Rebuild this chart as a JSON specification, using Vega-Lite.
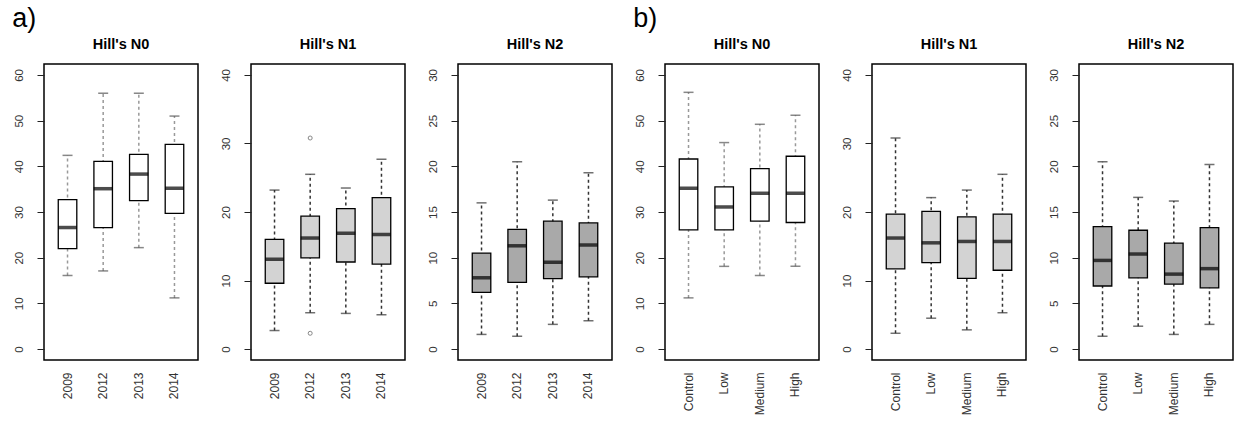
{
  "$schema": "https://vega.github.io/schema/vega-lite/v6.json",
  "padding": {"left": 12, "top": 4, "right": 0, "bottom": 0},
  "background": "white",
  "config": {
    "font": "Liberation Sans",
    "view": {"stroke": "black", "strokeWidth": 1.5},
    "concat": {"spacing": 20},
    "axis": {"grid": false, "labelFont": "Liberation Sans", "labelColor": "#333", "labelFontSize": 11.5}
  },
  "datasets": {
    "boxes": [
      {"set": "a", "index": "N0", "group": "2009", "lo": 16.1, "q1": 22.0, "med": 26.6, "q3": 32.7, "hi": 42.4},
      {"set": "a", "index": "N0", "group": "2012", "lo": 17.1, "q1": 26.6, "med": 35.1, "q3": 41.1, "hi": 56.0},
      {"set": "a", "index": "N0", "group": "2013", "lo": 22.2, "q1": 32.5, "med": 38.3, "q3": 42.6, "hi": 56.0},
      {"set": "a", "index": "N0", "group": "2014", "lo": 11.2, "q1": 29.7, "med": 35.2, "q3": 44.8, "hi": 51.0},
      {"set": "a", "index": "N1", "group": "2009", "lo": 2.7, "q1": 9.6, "med": 13.1, "q3": 16.0, "hi": 23.2},
      {"set": "a", "index": "N1", "group": "2012", "lo": 5.3, "q1": 13.3, "med": 16.2, "q3": 19.4, "hi": 25.5},
      {"set": "a", "index": "N1", "group": "2013", "lo": 5.2, "q1": 12.7, "med": 16.9, "q3": 20.5, "hi": 23.5},
      {"set": "a", "index": "N1", "group": "2014", "lo": 5.0, "q1": 12.4, "med": 16.7, "q3": 22.1, "hi": 27.7},
      {"set": "a", "index": "N2", "group": "2009", "lo": 1.6, "q1": 6.2, "med": 7.8, "q3": 10.5, "hi": 16.0},
      {"set": "a", "index": "N2", "group": "2012", "lo": 1.4, "q1": 7.3, "med": 11.3, "q3": 13.1, "hi": 20.5},
      {"set": "a", "index": "N2", "group": "2013", "lo": 2.7, "q1": 7.7, "med": 9.5, "q3": 14.0, "hi": 16.3},
      {"set": "a", "index": "N2", "group": "2014", "lo": 3.1, "q1": 7.9, "med": 11.4, "q3": 13.8, "hi": 19.3},
      {"set": "b", "index": "N0", "group": "Control", "lo": 11.2, "q1": 26.1, "med": 35.2, "q3": 41.6, "hi": 56.2},
      {"set": "b", "index": "N0", "group": "Low", "lo": 18.1, "q1": 26.1, "med": 31.1, "q3": 35.5, "hi": 45.2},
      {"set": "b", "index": "N0", "group": "Medium", "lo": 16.1, "q1": 28.0, "med": 34.1, "q3": 39.5, "hi": 49.2},
      {"set": "b", "index": "N0", "group": "High", "lo": 18.1, "q1": 27.7, "med": 34.1, "q3": 42.2, "hi": 51.2},
      {"set": "b", "index": "N1", "group": "Control", "lo": 2.3, "q1": 11.7, "med": 16.2, "q3": 19.7, "hi": 30.8},
      {"set": "b", "index": "N1", "group": "Low", "lo": 4.5, "q1": 12.6, "med": 15.5, "q3": 20.1, "hi": 22.1},
      {"set": "b", "index": "N1", "group": "Medium", "lo": 2.8, "q1": 10.3, "med": 15.7, "q3": 19.3, "hi": 23.2},
      {"set": "b", "index": "N1", "group": "High", "lo": 5.3, "q1": 11.5, "med": 15.7, "q3": 19.7, "hi": 25.5},
      {"set": "b", "index": "N2", "group": "Control", "lo": 1.4, "q1": 6.9, "med": 9.7, "q3": 13.4, "hi": 20.5},
      {"set": "b", "index": "N2", "group": "Low", "lo": 2.5, "q1": 7.8, "med": 10.4, "q3": 13.0, "hi": 16.6},
      {"set": "b", "index": "N2", "group": "Medium", "lo": 1.6, "q1": 7.1, "med": 8.2, "q3": 11.6, "hi": 16.2},
      {"set": "b", "index": "N2", "group": "High", "lo": 2.7, "q1": 6.7, "med": 8.8, "q3": 13.3, "hi": 20.2}
    ],
    "outliers": [
      {"set": "a", "index": "N1", "group": "2012", "value": 30.8},
      {"set": "a", "index": "N1", "group": "2012", "value": 2.3}
    ]
  },
  "hconcat": [
    {
      "title": {"text": "a)", "anchor": "start", "fontSize": 27, "fontWeight": "normal", "offset": 3, "color": "black"},
      "hconcat": [
        {
          "width": 154, "height": 296,
          "title": {"text": "Hill's N0", "fontSize": 14.5, "fontWeight": "bold", "offset": 12},
          "data": {"name": "boxes"},
          "transform": [{"filter": "datum.set == 'a' && datum.index == 'N0'"}],
          "encoding": {"x": {"field": "group", "type": "nominal", "sort": ["2009", "2012", "2013", "2014"], "title": null, "scale": {"paddingInner": 0, "paddingOuter": 0.16}, "axis": {"labelAngle": -90, "labelAlign": "right", "labelBaseline": "middle", "ticks": false, "domain": false, "labelPadding": 12, "labelFontSize": 12}}},
          "layer": [
            {"mark": {"type": "rule", "strokeDash": [3, 3], "color": "#999", "strokeWidth": 1.5},
             "encoding": {"y": {"field": "lo", "type": "quantitative", "title": null, "scale": {"domain": [-2.4, 62.4], "nice": false, "zero": false}, "axis": {"values": [0, 10, 20, 30, 40, 50, 60], "tickSize": 7, "tickColor": "#222", "labelAngle": -90, "labelAlign": "center", "labelBaseline": "bottom", "labelPadding": 13, "domain": false}}, "y2": {"field": "hi"}}},
            {"mark": {"type": "tick", "orient": "horizontal", "size": 10, "thickness": 1.5, "color": "#555"}, "encoding": {"y": {"field": "lo", "type": "quantitative"}}},
            {"mark": {"type": "tick", "orient": "horizontal", "size": 10, "thickness": 1.5, "color": "#555"}, "encoding": {"y": {"field": "hi", "type": "quantitative"}}},
            {"mark": {"type": "bar", "width": {"band": 0.52}, "fill": "white", "stroke": "black", "strokeWidth": 1.3}, "encoding": {"y": {"field": "q1", "type": "quantitative"}, "y2": {"field": "q3"}}},
            {"mark": {"type": "tick", "orient": "horizontal", "size": 19, "thickness": 3.5, "color": "black"}, "encoding": {"y": {"field": "med", "type": "quantitative"}}}
          ]
        },
        {
          "width": 154, "height": 296,
          "title": {"text": "Hill's N1", "fontSize": 14.5, "fontWeight": "bold", "offset": 12},
          "encoding": {"x": {"field": "group", "type": "nominal", "sort": ["2009", "2012", "2013", "2014"], "title": null, "scale": {"paddingInner": 0, "paddingOuter": 0.16}, "axis": {"labelAngle": -90, "labelAlign": "right", "labelBaseline": "middle", "ticks": false, "domain": false, "labelPadding": 12, "labelFontSize": 12}}},
          "layer": [
            {"data": {"name": "boxes"}, "transform": [{"filter": "datum.set == 'a' && datum.index == 'N1'"}],
             "mark": {"type": "rule", "strokeDash": [3, 3], "color": "#333", "strokeWidth": 1.5},
             "encoding": {"y": {"field": "lo", "type": "quantitative", "title": null, "scale": {"domain": [-1.6, 41.6], "nice": false, "zero": false}, "axis": {"values": [0, 10, 20, 30, 40], "tickSize": 7, "tickColor": "#222", "labelAngle": -90, "labelAlign": "center", "labelBaseline": "bottom", "labelPadding": 13, "domain": false}}, "y2": {"field": "hi"}}},
            {"data": {"name": "boxes"}, "transform": [{"filter": "datum.set == 'a' && datum.index == 'N1'"}],
             "mark": {"type": "tick", "orient": "horizontal", "size": 10, "thickness": 1.5, "color": "#333"}, "encoding": {"y": {"field": "lo", "type": "quantitative"}}},
            {"data": {"name": "boxes"}, "transform": [{"filter": "datum.set == 'a' && datum.index == 'N1'"}],
             "mark": {"type": "tick", "orient": "horizontal", "size": 10, "thickness": 1.5, "color": "#333"}, "encoding": {"y": {"field": "hi", "type": "quantitative"}}},
            {"data": {"name": "boxes"}, "transform": [{"filter": "datum.set == 'a' && datum.index == 'N1'"}],
             "mark": {"type": "bar", "width": {"band": 0.52}, "fill": "#d3d3d3", "stroke": "black", "strokeWidth": 1.3}, "encoding": {"y": {"field": "q1", "type": "quantitative"}, "y2": {"field": "q3"}}},
            {"data": {"name": "boxes"}, "transform": [{"filter": "datum.set == 'a' && datum.index == 'N1'"}],
             "mark": {"type": "tick", "orient": "horizontal", "size": 19, "thickness": 3.5, "color": "black"}, "encoding": {"y": {"field": "med", "type": "quantitative"}}},
            {"data": {"name": "outliers"}, "transform": [{"filter": "datum.set == 'a' && datum.index == 'N1'"}],
             "mark": {"type": "point", "shape": "circle", "filled": false, "size": 16, "color": "#555", "strokeWidth": 1}, "encoding": {"y": {"field": "value", "type": "quantitative"}}}
          ]
        },
        {
          "width": 154, "height": 296,
          "title": {"text": "Hill's N2", "fontSize": 14.5, "fontWeight": "bold", "offset": 12},
          "data": {"name": "boxes"},
          "transform": [{"filter": "datum.set == 'a' && datum.index == 'N2'"}],
          "encoding": {"x": {"field": "group", "type": "nominal", "sort": ["2009", "2012", "2013", "2014"], "title": null, "scale": {"paddingInner": 0, "paddingOuter": 0.16}, "axis": {"labelAngle": -90, "labelAlign": "right", "labelBaseline": "middle", "ticks": false, "domain": false, "labelPadding": 12, "labelFontSize": 12}}},
          "layer": [
            {"mark": {"type": "rule", "strokeDash": [3, 3], "color": "#333", "strokeWidth": 1.5},
             "encoding": {"y": {"field": "lo", "type": "quantitative", "title": null, "scale": {"domain": [-1.2, 31.2], "nice": false, "zero": false}, "axis": {"values": [0, 5, 10, 15, 20, 25, 30], "tickSize": 7, "tickColor": "#222", "labelAngle": -90, "labelAlign": "center", "labelBaseline": "bottom", "labelPadding": 13, "domain": false}}, "y2": {"field": "hi"}}},
            {"mark": {"type": "tick", "orient": "horizontal", "size": 10, "thickness": 1.5, "color": "#333"}, "encoding": {"y": {"field": "lo", "type": "quantitative"}}},
            {"mark": {"type": "tick", "orient": "horizontal", "size": 10, "thickness": 1.5, "color": "#333"}, "encoding": {"y": {"field": "hi", "type": "quantitative"}}},
            {"mark": {"type": "bar", "width": {"band": 0.52}, "fill": "#a9a9a9", "stroke": "black", "strokeWidth": 1.3}, "encoding": {"y": {"field": "q1", "type": "quantitative"}, "y2": {"field": "q3"}}},
            {"mark": {"type": "tick", "orient": "horizontal", "size": 19, "thickness": 3.5, "color": "black"}, "encoding": {"y": {"field": "med", "type": "quantitative"}}}
          ]
        }
      ]
    },
    {
      "title": {"text": "b)", "anchor": "start", "fontSize": 27, "fontWeight": "normal", "offset": 3, "color": "black"},
      "hconcat": [
        {
          "width": 154, "height": 296,
          "title": {"text": "Hill's N0", "fontSize": 14.5, "fontWeight": "bold", "offset": 12},
          "data": {"name": "boxes"},
          "transform": [{"filter": "datum.set == 'b' && datum.index == 'N0'"}],
          "encoding": {"x": {"field": "group", "type": "nominal", "sort": ["Control", "Low", "Medium", "High"], "title": null, "scale": {"paddingInner": 0, "paddingOuter": 0.16}, "axis": {"labelAngle": -90, "labelAlign": "right", "labelBaseline": "middle", "ticks": false, "domain": false, "labelPadding": 12, "labelFontSize": 12}}},
          "layer": [
            {"mark": {"type": "rule", "strokeDash": [3, 3], "color": "#999", "strokeWidth": 1.5},
             "encoding": {"y": {"field": "lo", "type": "quantitative", "title": null, "scale": {"domain": [-2.4, 62.4], "nice": false, "zero": false}, "axis": {"values": [0, 10, 20, 30, 40, 50, 60], "tickSize": 7, "tickColor": "#222", "labelAngle": -90, "labelAlign": "center", "labelBaseline": "bottom", "labelPadding": 13, "domain": false}}, "y2": {"field": "hi"}}},
            {"mark": {"type": "tick", "orient": "horizontal", "size": 10, "thickness": 1.5, "color": "#555"}, "encoding": {"y": {"field": "lo", "type": "quantitative"}}},
            {"mark": {"type": "tick", "orient": "horizontal", "size": 10, "thickness": 1.5, "color": "#555"}, "encoding": {"y": {"field": "hi", "type": "quantitative"}}},
            {"mark": {"type": "bar", "width": {"band": 0.52}, "fill": "white", "stroke": "black", "strokeWidth": 1.3}, "encoding": {"y": {"field": "q1", "type": "quantitative"}, "y2": {"field": "q3"}}},
            {"mark": {"type": "tick", "orient": "horizontal", "size": 19, "thickness": 3.5, "color": "black"}, "encoding": {"y": {"field": "med", "type": "quantitative"}}}
          ]
        },
        {
          "width": 154, "height": 296,
          "title": {"text": "Hill's N1", "fontSize": 14.5, "fontWeight": "bold", "offset": 12},
          "data": {"name": "boxes"},
          "transform": [{"filter": "datum.set == 'b' && datum.index == 'N1'"}],
          "encoding": {"x": {"field": "group", "type": "nominal", "sort": ["Control", "Low", "Medium", "High"], "title": null, "scale": {"paddingInner": 0, "paddingOuter": 0.16}, "axis": {"labelAngle": -90, "labelAlign": "right", "labelBaseline": "middle", "ticks": false, "domain": false, "labelPadding": 12, "labelFontSize": 12}}},
          "layer": [
            {"mark": {"type": "rule", "strokeDash": [3, 3], "color": "#333", "strokeWidth": 1.5},
             "encoding": {"y": {"field": "lo", "type": "quantitative", "title": null, "scale": {"domain": [-1.6, 41.6], "nice": false, "zero": false}, "axis": {"values": [0, 10, 20, 30, 40], "tickSize": 7, "tickColor": "#222", "labelAngle": -90, "labelAlign": "center", "labelBaseline": "bottom", "labelPadding": 13, "domain": false}}, "y2": {"field": "hi"}}},
            {"mark": {"type": "tick", "orient": "horizontal", "size": 10, "thickness": 1.5, "color": "#333"}, "encoding": {"y": {"field": "lo", "type": "quantitative"}}},
            {"mark": {"type": "tick", "orient": "horizontal", "size": 10, "thickness": 1.5, "color": "#333"}, "encoding": {"y": {"field": "hi", "type": "quantitative"}}},
            {"mark": {"type": "bar", "width": {"band": 0.52}, "fill": "#d3d3d3", "stroke": "black", "strokeWidth": 1.3}, "encoding": {"y": {"field": "q1", "type": "quantitative"}, "y2": {"field": "q3"}}},
            {"mark": {"type": "tick", "orient": "horizontal", "size": 19, "thickness": 3.5, "color": "black"}, "encoding": {"y": {"field": "med", "type": "quantitative"}}}
          ]
        },
        {
          "width": 154, "height": 296,
          "title": {"text": "Hill's N2", "fontSize": 14.5, "fontWeight": "bold", "offset": 12},
          "data": {"name": "boxes"},
          "transform": [{"filter": "datum.set == 'b' && datum.index == 'N2'"}],
          "encoding": {"x": {"field": "group", "type": "nominal", "sort": ["Control", "Low", "Medium", "High"], "title": null, "scale": {"paddingInner": 0, "paddingOuter": 0.16}, "axis": {"labelAngle": -90, "labelAlign": "right", "labelBaseline": "middle", "ticks": false, "domain": false, "labelPadding": 12, "labelFontSize": 12}}},
          "layer": [
            {"mark": {"type": "rule", "strokeDash": [3, 3], "color": "#333", "strokeWidth": 1.5},
             "encoding": {"y": {"field": "lo", "type": "quantitative", "title": null, "scale": {"domain": [-1.2, 31.2], "nice": false, "zero": false}, "axis": {"values": [0, 5, 10, 15, 20, 25, 30], "tickSize": 7, "tickColor": "#222", "labelAngle": -90, "labelAlign": "center", "labelBaseline": "bottom", "labelPadding": 13, "domain": false}}, "y2": {"field": "hi"}}},
            {"mark": {"type": "tick", "orient": "horizontal", "size": 10, "thickness": 1.5, "color": "#333"}, "encoding": {"y": {"field": "lo", "type": "quantitative"}}},
            {"mark": {"type": "tick", "orient": "horizontal", "size": 10, "thickness": 1.5, "color": "#333"}, "encoding": {"y": {"field": "hi", "type": "quantitative"}}},
            {"mark": {"type": "bar", "width": {"band": 0.52}, "fill": "#a9a9a9", "stroke": "black", "strokeWidth": 1.3}, "encoding": {"y": {"field": "q1", "type": "quantitative"}, "y2": {"field": "q3"}}},
            {"mark": {"type": "tick", "orient": "horizontal", "size": 19, "thickness": 3.5, "color": "black"}, "encoding": {"y": {"field": "med", "type": "quantitative"}}}
          ]
        }
      ]
    }
  ]
}
